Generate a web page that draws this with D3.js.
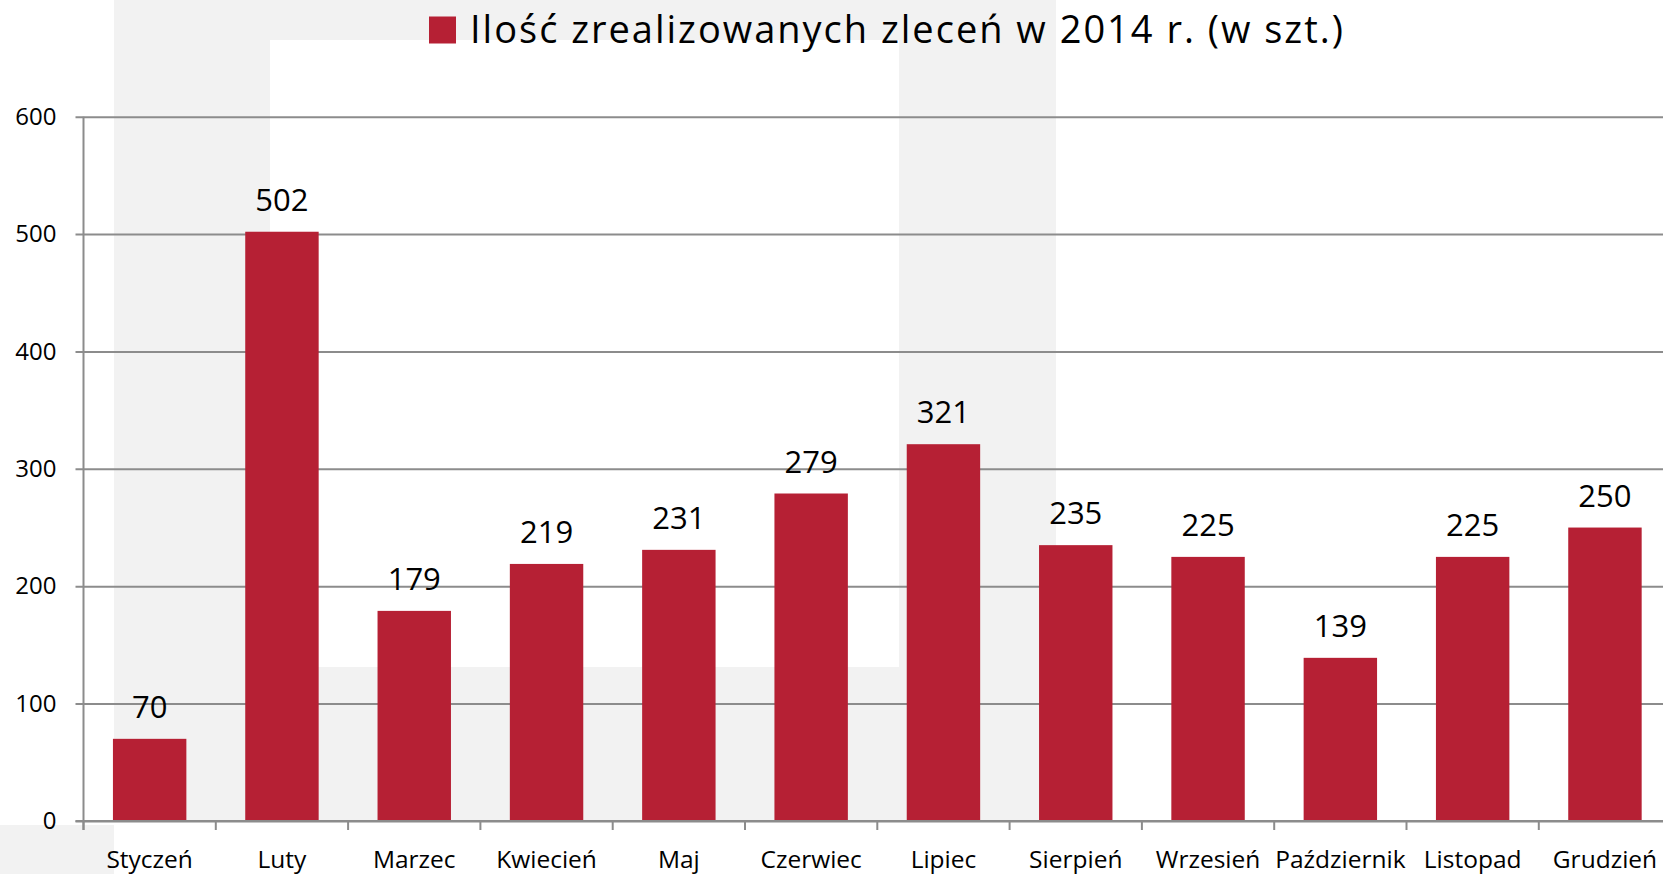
<!DOCTYPE html>
<html>
<head>
<meta charset="utf-8">
<script src="https://cdn.jsdelivr.net/npm/d3@7"></script>
<style>
  html, body { margin: 0; padding: 0; background: #ffffff; }
  svg { display: block; font-family: "Open Sans", "Noto Sans", sans-serif; }
</style>
</head>
<body>
<svg id="chart" width="1663" height="874"></svg>
<script>
// ---- data ----
const categories = ["Styczeń", "Luty", "Marzec", "Kwiecień", "Maj", "Czerwiec", "Lipiec", "Sierpień", "Wrzesień", "Październik", "Listopad", "Grudzień"];
const values = [70, 502, 179, 219, 231, 279, 321, 235, 225, 139, 225, 250];
const yTicks = [0, 100, 200, 300, 400, 500, 600];
const seriesName = "Ilość zrealizowanych zleceń w 2014 r. (w szt.)";

// ---- layout ----
const W = 1663, H = 874;
const x0 = 83.5, step = 132.3;
const yBase = 821, yTop = 116.7;
const barColor = "#b62034";
const gridColor = "#8c8c8c";
const wm = "#f2f2f2";
const FONT = '"Open Sans", "Noto Sans", sans-serif';

const svg = d3.select("#chart");

// watermark background
const bg = svg.append("g");
bg.append("path")
  .attr("fill", wm)
  .attr("fill-rule", "evenodd")
  .attr("d", "M114,0 H1056 V821 H114 Z M270,40 H899 V667 H270 Z");
bg.append("rect").attr("x", 0).attr("y", 825).attr("width", 114).attr("height", H - 825).attr("fill", wm);

const x = d3.scaleBand()
  .domain(categories)
  .range([x0, x0 + step * categories.length])
  .paddingInner(0.445)
  .paddingOuter(0.2225);

const y = d3.scaleLinear().domain([0, 600]).range([yBase, yTop]);

// gridlines + y axis
const yAxis = d3.axisLeft(y)
  .tickValues(yTicks)
  .tickSize(-(W - x0))
  .tickPadding(10)
  .tickFormat(d3.format("d"));
const gy = svg.append("g").attr("transform", `translate(${x0},0)`).call(yAxis)
  .attr("font-family", FONT);
gy.select(".domain").remove();
gy.selectAll(".tick line")
  .attr("x1", -8)
  .attr("stroke", gridColor)
  .attr("stroke-width", 2);
gy.selectAll(".tick text")
  .attr("x", -27)
  .attr("font-size", 24)
  .attr("fill", "#000");

// y axis line
svg.append("line")
  .attr("x1", x0).attr("x2", x0)
  .attr("y1", yTop).attr("y2", yBase + 9)
  .attr("stroke", gridColor).attr("stroke-width", 2);

// x axis ticks at band boundaries
const half = x.step() * x.paddingInner() / 2;
svg.append("g").selectAll("line")
  .data(categories)
  .join("line")
  .attr("x1", d => x(d) - half)
  .attr("x2", d => x(d) - half)
  .attr("y1", yBase)
  .attr("y2", yBase + 9)
  .attr("stroke", gridColor)
  .attr("stroke-width", 2);

// bars
svg.append("g").selectAll("rect")
  .data(values)
  .join("rect")
  .attr("x", (d, i) => x(categories[i]))
  .attr("y", d => y(d))
  .attr("width", x.bandwidth())
  .attr("height", d => y(0) - y(d))
  .attr("fill", barColor);

// bottom axis line redrawn on top
svg.append("line")
  .attr("x1", x0 - 8).attr("x2", W)
  .attr("y1", yBase).attr("y2", yBase)
  .attr("stroke", gridColor).attr("stroke-width", 2);

// data labels
svg.append("g").selectAll("text")
  .data(values)
  .join("text")
  .attr("x", (d, i) => x(categories[i]) + x.bandwidth() / 2)
  .attr("y", d => y(d) - 21)
  .attr("text-anchor", "middle")
  .attr("font-size", 31)
  .attr("fill", "#000")
  .text(d => d);

// category labels
const xAxis = d3.axisBottom(x).tickSize(0).tickPadding(0);
const gx = svg.append("g").attr("transform", `translate(0,${yBase})`).call(xAxis)
  .attr("font-family", FONT);
gx.select(".domain").remove();
gx.selectAll(".tick text")
  .attr("y", 47)
  .attr("dy", 0)
  .attr("font-size", 24.5)
  .attr("fill", "#000");

// legend / title
const lg = svg.append("g");
lg.append("rect").attr("x", 429).attr("y", 16.5).attr("width", 27).attr("height", 27).attr("fill", barColor);
const t = lg.append("text")
  .attr("x", 470).attr("y", 43.3)
  .attr("font-size", 38)
  .attr("fill", "#000")
  .text(seriesName);
const tw = t.node().getComputedTextLength();
const extra = (873 - tw) / (seriesName.length - 1);
if (extra > 0) t.attr("letter-spacing", extra.toFixed(2));
</script>
</body>
</html>
